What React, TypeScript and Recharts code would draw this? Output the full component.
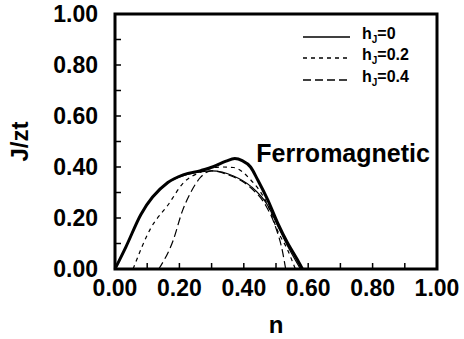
import {
  LineChart,
  Line,
  XAxis,
  YAxis,
  ReferenceArea,
  ReferenceDot,
  Legend,
} from "recharts";

// ---------------------------------------------------------------------------
// Data
// ---------------------------------------------------------------------------

const tickValues = [0, 0.1, 0.2, 0.3, 0.4, 0.5, 0.6, 0.7, 0.8, 0.9, 1];

// thick phase boundary
const boundaryN = [0, 0.034, 0.08, 0.164, 0.214, 0.266, 0.307, 0.345, 0.372, 0.395, 0.421, 0.443, 0.474, 0.505, 0.536, 0.567, 0.582];
const boundaryJ = [0, 0.087, 0.213, 0.339, 0.37, 0.386, 0.402, 0.423, 0.433, 0.425, 0.4, 0.35, 0.272, 0.181, 0.102, 0.035, 0];

// h_J = 0
const h0N = [0, 0.034, 0.08, 0.164, 0.214, 0.266, 0.3, 0.368, 0.421, 0.474, 0.505, 0.536, 0.576];
const h0J = [0, 0.087, 0.213, 0.338, 0.367, 0.381, 0.385, 0.365, 0.325, 0.25, 0.17, 0.09, 0];

// h_J = 0.2
const h02N = [0.056, 0.111, 0.164, 0.214, 0.266, 0.328, 0.368, 0.421, 0.474, 0.505, 0.536, 0.56];
const h02J = [0, 0.16, 0.25, 0.34, 0.38, 0.4, 0.398, 0.35, 0.252, 0.15, 0.075, 0];

// h_J = 0.4
const h04N = [0.136, 0.18, 0.21, 0.235, 0.266, 0.3, 0.35, 0.42, 0.47, 0.5, 0.52, 0.53];
const h04J = [0, 0.11, 0.23, 0.3, 0.36, 0.385, 0.37, 0.32, 0.245, 0.16, 0.07, 0];

const zip = (ns: number[], js: number[]) => ns.map((n, i) => ({ n, j: js[i] }));

const series = [
  { key: "boundary", label: "", data: zip(boundaryN, boundaryJ), width: 3, dash: undefined as string | undefined },
  { key: "h0", label: "0", data: zip(h0N, h0J), width: 1.2, dash: undefined },
  { key: "h02", label: "0.2", data: zip(h02N, h02J), width: 1.2, dash: "4 4" },
  { key: "h04", label: "0.4", data: zip(h04N, h04J), width: 1.2, dash: "8 4" },
];

// ---------------------------------------------------------------------------
// Styling helpers
// ---------------------------------------------------------------------------

const FONT = "'Liberation Sans', Arial, Helvetica, sans-serif";
const TICK_LEN = 6;
const X_MARGIN = 11;
const Y_MARGIN = 17;

const isMajor = (v: number) => Math.round(v * 10) % 2 === 0;

const BottomTick = (props: any) => {
  const { x, y, payload } = props;
  const axisY = y - X_MARGIN;
  return (
    <g>
      <line x1={x} x2={x} y1={axisY} y2={axisY - TICK_LEN} stroke="#000" strokeWidth={1.5} />
      {isMajor(payload.value) && (
        <text x={x} y={y} dy="0.71em" textAnchor="middle" fontFamily={FONT} fontWeight="bold" fontSize={23} fill="#000">
          {payload.value.toFixed(2)}
        </text>
      )}
    </g>
  );
};

const LeftTick = (props: any) => {
  const { x, y, payload } = props;
  const axisX = x + Y_MARGIN;
  return (
    <g>
      <line x1={axisX} x2={axisX + TICK_LEN} y1={y} y2={y} stroke="#000" strokeWidth={1.5} />
      {isMajor(payload.value) && (
        <text x={x} y={y} dy="0.36em" textAnchor="end" fontFamily={FONT} fontWeight="bold" fontSize={23} fill="#000">
          {payload.value.toFixed(2)}
        </text>
      )}
    </g>
  );
};

const TopTick = (props: any) => {
  const { x, y } = props;
  const axisY = y + 2;
  return <line x1={x} x2={x} y1={axisY} y2={axisY + TICK_LEN} stroke="#000" strokeWidth={1.5} />;
};

const RightTick = (props: any) => {
  const { x, y } = props;
  const axisX = x - 2;
  return <line x1={axisX} x2={axisX - TICK_LEN} y1={y} y2={y} stroke="#000" strokeWidth={1.5} />;
};

const renderLegend = () => (
  <div style={{ fontFamily: FONT, fontWeight: "bold", fontSize: 16, color: "#000" }}>
    {series
      .filter((s) => s.label)
      .map((s) => (
        <div key={s.key} style={{ display: "flex", alignItems: "center", height: 21.5 }}>
          <svg width={47} height={6}>
            <line x1={0} x2={47} y1={3} y2={3} stroke="#000" strokeWidth={1.3} strokeDasharray={s.dash} />
          </svg>
          <span style={{ marginLeft: 12, lineHeight: "16px" }}>
            h<sub style={{ fontSize: 10, verticalAlign: "-4px" }}>J</sub>={s.label}
          </span>
        </div>
      ))}
  </div>
);

// ---------------------------------------------------------------------------
// Component
// ---------------------------------------------------------------------------

export default function App() {
  return (
    <div style={{ position: "absolute", left: 0, top: 0, background: "#fff" }}>
      <LineChart width={464} height={339} margin={{ top: 10, right: 17, bottom: 6, left: 5 }}>
        <XAxis
          dataKey="n"
          type="number"
          domain={[0, 1]}
          ticks={tickValues}
          interval={0}
          allowDuplicatedCategory={false}
          axisLine={false}
          tickLine={false}
          tickSize={0}
          tickMargin={X_MARGIN}
          height={64}
          tick={<BottomTick />}
          label={{
            value: "n",
            position: "insideBottom",
            offset: 0,
            style: { fontFamily: FONT, fontWeight: "bold", fontSize: 24, fill: "#000" },
          }}
        />
        <XAxis
          xAxisId="top"
          orientation="top"
          type="number"
          domain={[0, 1]}
          ticks={tickValues}
          interval={0}
          axisLine={false}
          tickLine={false}
          tickSize={0}
          tickMargin={2}
          height={4}
          tick={<TopTick />}
        />
        <YAxis
          type="number"
          domain={[0, 1]}
          ticks={tickValues}
          interval={0}
          axisLine={false}
          tickLine={false}
          tickSize={0}
          tickMargin={Y_MARGIN}
          width={110}
          tick={<LeftTick />}
          label={{
            value: "J/zt",
            angle: -90,
            position: "insideLeft",
            offset: 14,
            style: { fontFamily: FONT, fontWeight: "bold", fontSize: 24, fill: "#000", textAnchor: "middle" },
          }}
        />
        <YAxis
          yAxisId="right"
          orientation="right"
          type="number"
          domain={[0, 1]}
          ticks={tickValues}
          interval={0}
          axisLine={false}
          tickLine={false}
          tickSize={0}
          tickMargin={2}
          width={10}
          tick={<RightTick />}
        />
        <Legend
          layout="vertical"
          align="center"
          verticalAlign="middle"
          content={renderLegend}
          wrapperStyle={{ left: 303, top: 26, width: 140 }}
        />
        {series.map((s) => (
          <Line
            key={s.key}
            data={s.data}
            dataKey="j"
            type="monotone"
            stroke="#000"
            strokeWidth={s.width}
            strokeDasharray={s.dash}
            dot={false}
            activeDot={false}
            isAnimationActive={false}
          />
        ))}
        <ReferenceArea x1={0} x2={1} y1={0} y2={1} fill="none" stroke="#000" strokeWidth={3} ifOverflow="visible" />
        <ReferenceDot
          x={0.978}
          y={0.455}
          r={0}
          fill="none"
          stroke="none"
          label={{
            value: "Ferromagnetic",
            position: "left",
            offset: 0,
            style: { fontFamily: FONT, fontWeight: "bold", fontSize: 25, fill: "#000" },
          }}
        />
      </LineChart>
    </div>
  );
}
